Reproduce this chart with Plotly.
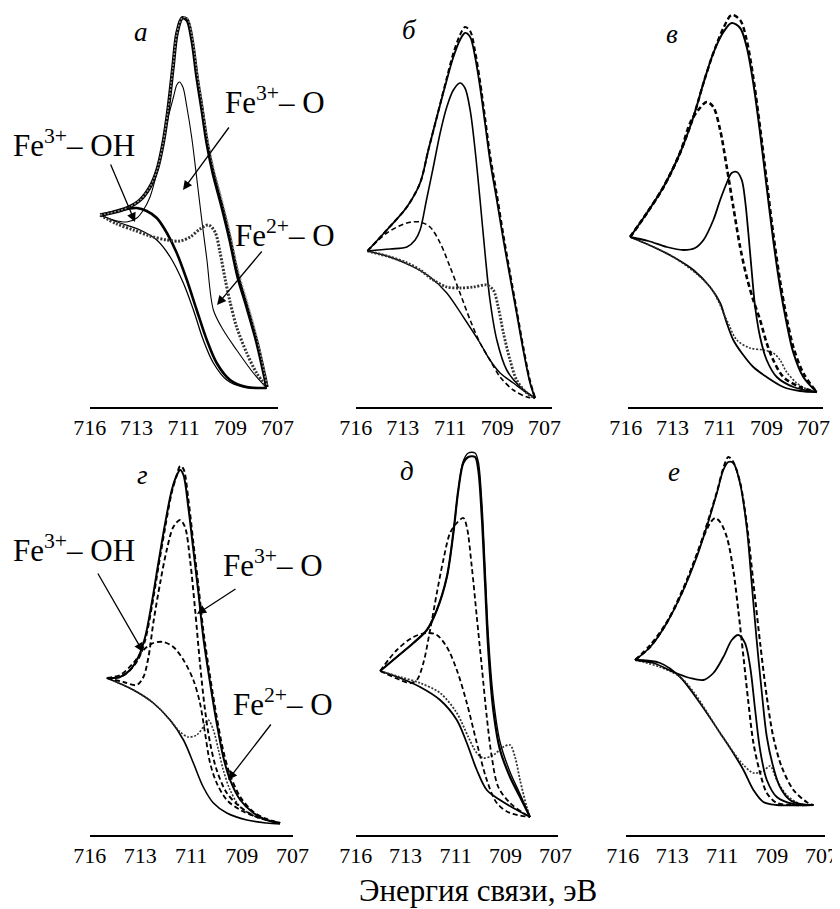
import numpy as np
import plotly.graph_objects as go

# ---------------- data (binding energy, eV  /  intensity, arb. units) ----------------
E_TICKS = [716, 713, 711, 709, 707]
TICK_TEXT = ["716", "713", "711", "709", "707"]
PANEL_LETTERS = ["а", "б", "в", "г", "д", "е"]
X_TITLE = "Энергия связи, эВ"
LBL_OH = "Fe<sup>3+</sup>– OH"
LBL_O3 = "Fe<sup>3+</sup>– O"
LBL_O2 = "Fe<sup>2+</sup>– O"

# panel а
a_env_e = [715.33, 714.69, 713.61, 712.85, 712.43, 712.13, 711.87, 711.66, 711.45, 711.28, 711.06, 710.85,
           710.64, 710.43, 710.21, 710.00, 709.74, 709.36, 709.02, 708.68, 708.30, 707.87, 707.45]
a_env_i = [192, 194, 199, 207, 220, 237, 264, 297, 340, 374, 389, 387, 367, 330, 297, 264, 234, 200, 167, 130, 100, 64, 20]
a_exp_i = [192, 194, 199, 207, 220, 237, 264, 297, 340, 374, 389, 389, 371, 336, 303, 271, 241, 207, 174, 137, 106, 69, 22]
a_o_e = [715.33, 714.48, 713.63, 712.99, 712.71, 712.43, 712.14, 711.86, 711.65, 711.43, 711.29, 711.18, 711.03,
         710.86, 710.65, 710.44, 710.23, 710.01, 709.73, 709.31, 708.74, 708.03, 707.46]
a_o_i = [192, 187, 185, 189, 197, 210, 234, 264, 290, 310, 322, 325, 320, 300, 269, 229, 188, 148, 97, 77, 57, 34, 19]
a_oh_e = [715.33, 714.48, 713.63, 712.99, 712.57, 712.14, 711.71, 711.29, 710.86, 710.44, 710.01, 709.59, 709.02, 708.31, 707.46]
a_oh_i = [192, 195, 198, 199, 196, 189, 174, 154, 127, 97, 67, 44, 27, 20, 19]
a_fe2_e = [715.33, 714.26, 713.20, 712.43, 711.71, 711.15, 710.72, 710.30, 709.94, 709.66, 709.45, 709.23, 709.02,
           708.74, 708.31, 707.89, 707.46]
a_fe2_i = [192, 183, 177, 171, 167, 166, 170, 178, 182, 175, 155, 128, 105, 80, 54, 34, 20]
a_bg_e = [715.33, 714.05, 712.85, 712.14, 711.57, 711.01, 710.58, 710.16, 709.73, 709.16, 708.46, 707.46]
a_bg_i = [192, 184, 177, 167, 150, 124, 97, 67, 44, 27, 20, 19]

# panel б
b_env_e = [715.25, 714.02, 712.83, 712.27, 711.92, 711.56, 711.14, 710.86, 710.58, 710.37, 710.15, 709.94,
           709.73, 709.52, 709.31, 709.02, 708.74, 708.46, 708.18, 707.90, 707.61, 707.40]
b_env_i = [156, 177, 200, 224, 257, 290, 327, 350, 367, 374, 370, 350, 320, 284, 247, 207, 167, 130, 94, 57, 24, 9]
b_exp_i = [156, 177, 200, 224, 257, 290, 329, 354, 372, 380, 376, 356, 326, 290, 253, 213, 172, 134, 97, 60, 26, 9]
b_o_e = [715.25, 713.81, 712.83, 712.48, 712.27, 712.00, 711.71, 711.42, 711.14, 710.86, 710.58, 710.37, 710.15,
         709.94, 709.73, 709.52, 709.31, 709.02, 708.60, 708.02, 707.40]
b_o_i = [156, 158, 160, 167, 177, 207, 240, 274, 300, 317, 324, 319, 297, 257, 207, 154, 107, 67, 37, 20, 9]
b_oh_e = [715.25, 714.02, 712.83, 712.27, 711.85, 711.42, 711.00, 710.58, 710.15, 709.73, 709.31, 708.88, 708.32, 707.75, 707.40]
b_oh_i = [156, 174, 184, 185, 180, 164, 140, 114, 87, 64, 47, 30, 17, 10, 9]
b_fe2_e = [715.25, 713.81, 712.83, 712.27, 711.71, 711.14, 710.58, 710.01, 709.45, 709.17, 708.96, 708.74, 708.46,
           708.18, 707.75, 707.40]
b_fe2_i = [156, 150, 144, 137, 127, 120, 119, 120, 122, 117, 100, 74, 47, 27, 14, 9]
b_bg_e = [715.25, 713.81, 712.55, 711.85, 711.14, 710.44, 709.73, 709.31, 708.88, 708.32, 707.75, 707.40]
b_bg_i = [156, 150, 140, 130, 114, 90, 64, 47, 34, 24, 14, 9]

# panel в
c_env_e = [715.84, 714.77, 713.71, 712.77, 712.20, 711.77, 711.35, 710.92, 710.57, 710.21, 709.93, 709.65,
           709.36, 709.08, 708.80, 708.51, 708.23, 707.94, 707.52, 706.95]
c_env_i = [170, 194, 220, 254, 290, 324, 354, 375, 384, 379, 360, 324, 274, 220, 167, 120, 84, 54, 30, 15]
c_exp_i = [170, 194, 220, 254, 290, 324, 354, 379, 392, 387, 367, 330, 280, 227, 174, 127, 90, 60, 34, 15]
c_oh_e = [715.84, 714.77, 713.71, 712.77, 712.34, 711.99, 711.63, 711.35, 711.06, 710.78, 710.50, 710.21, 709.93,
          709.65, 709.36, 709.08, 708.80, 708.37, 707.66, 706.95]
c_oh_i = [170, 194, 220, 254, 284, 297, 305, 300, 277, 240, 200, 160, 130, 107, 87, 64, 47, 30, 20, 15]
c_o_e = [715.84, 714.67, 713.50, 712.63, 712.13, 711.77, 711.35, 711.06, 710.78, 710.57, 710.35, 710.14, 710.00,
         709.86, 709.71, 709.57, 709.36, 709.08, 708.65, 707.94, 706.95]
c_o_i = [170, 166, 160, 157, 159, 167, 187, 207, 224, 234, 235, 227, 207, 174, 134, 100, 70, 47, 30, 20, 15]
c_fe2_e = [715.84, 713.08, 711.49, 710.78, 710.35, 709.79, 709.22, 708.80, 708.51, 708.23, 707.80, 707.37, 706.95]
c_fe2_i = [170, 150, 120, 87, 67, 59, 57, 54, 47, 35, 24, 18, 15]
c_bg_e = [715.84, 714.35, 713.08, 712.20, 711.49, 711.06, 710.78, 710.50, 710.14, 709.65, 709.08, 708.37, 707.66, 706.95]
c_bg_i = [170, 160, 150, 137, 120, 104, 84, 67, 54, 40, 30, 20, 16, 15]

# panel г
d_env_e = [714.98, 714.20, 713.61, 713.12, 712.81, 712.55, 712.29, 712.02, 711.76, 711.56, 711.43, 711.30,
           711.11, 710.91, 710.71, 710.52, 710.25, 709.99, 709.73, 709.46, 709.06, 708.54, 708.02, 707.49]
d_env_i = [157, 158, 165, 178, 198, 232, 272, 312, 345, 360, 365, 360, 328, 285, 242, 198, 152, 112, 78, 55, 35, 22, 15, 12]
d_exp_i = [157, 158, 165, 176, 195, 228, 268, 308, 343, 360, 369, 366, 336, 292, 249, 205, 158, 118, 84, 60, 38, 23, 16, 12]
d_o_e = [714.98, 714.00, 713.21, 712.88, 712.68, 712.49, 712.22, 711.96, 711.70, 711.43, 711.24, 711.04, 710.84,
         710.65, 710.45, 710.25, 709.99, 709.59, 709.06, 708.41, 707.49]
d_o_i = [157, 153, 150, 158, 178, 212, 252, 285, 308, 315, 308, 275, 225, 172, 125, 92, 65, 42, 28, 18, 12]
d_oh_e = [714.98, 714.20, 713.41, 712.88, 712.49, 712.09, 711.70, 711.30, 710.91, 710.65, 710.45, 710.25, 709.99,
          709.59, 709.06, 708.41, 707.49]
d_oh_i = [157, 160, 172, 185, 192, 193, 188, 175, 155, 132, 102, 72, 52, 35, 25, 18, 12]
d_fe2_e = [714.98, 713.41, 712.49, 711.83, 711.43, 711.11, 710.78, 710.52, 710.32, 710.12, 709.92, 709.73, 709.46,
           709.06, 708.41, 707.49]
d_fe2_i = [157, 145, 132, 115, 103, 98, 100, 108, 115, 105, 85, 65, 45, 28, 18, 12]
d_bg_e = [714.98, 713.41, 712.49, 711.83, 711.30, 710.91, 710.52, 710.12, 709.59, 708.80, 708.02, 707.49]
d_bg_i = [157, 145, 132, 115, 95, 72, 48, 32, 22, 15, 12, 11]

# panel д
e_env_e = [714.53, 713.53, 712.69, 712.15, 711.75, 711.35, 711.09, 710.89, 710.69, 710.49, 710.22, 710.09,
           709.95, 709.82, 709.69, 709.49, 709.22, 708.82, 708.42, 708.02]
e_env_i = [164, 178, 192, 205, 225, 258, 302, 345, 372, 378, 378, 365, 318, 252, 185, 125, 85, 58, 38, 18]
e_exp_i = [164, 178, 192, 205, 225, 258, 302, 345, 374, 382, 382, 373, 333, 268, 200, 137, 93, 63, 41, 18]
e_o_e = [714.53, 713.33, 712.82, 712.55, 712.29, 712.02, 711.75, 711.49, 711.22, 710.95, 710.69, 710.55, 710.35,
         710.15, 709.95, 709.75, 709.55, 709.29, 708.82, 708.29, 708.02]
e_o_i = [164, 155, 152, 155, 172, 205, 242, 275, 302, 312, 317, 308, 268, 218, 168, 118, 78, 48, 32, 22, 18]
e_oh_e = [714.53, 713.53, 712.69, 712.15, 711.75, 711.35, 710.95, 710.55, 710.15, 709.75, 709.35, 708.82, 708.02]
e_oh_i = [164, 185, 198, 202, 200, 188, 165, 132, 92, 55, 32, 22, 18]
e_fe2_e = [714.53, 713.33, 712.42, 711.62, 710.95, 710.49, 710.15, 709.89, 709.49, 709.09, 708.82, 708.62, 708.42,
           708.15, 708.02]
e_fe2_i = [164, 158, 152, 142, 122, 98, 82, 77, 80, 88, 90, 78, 55, 28, 18]
e_bg_e = [714.53, 713.33, 712.42, 711.62, 710.95, 710.55, 710.15, 709.75, 709.22, 708.69, 708.02]
e_bg_i = [164, 157, 148, 135, 115, 92, 65, 45, 35, 27, 18]

# panel е
f_env_e = [715.43, 714.52, 713.52, 712.68, 712.14, 711.74, 711.33, 711.07, 710.87, 710.67, 710.40, 710.13,
           709.93, 709.73, 709.52, 709.32, 709.06, 708.79, 708.39, 707.98, 707.45]
f_env_i = [175, 188, 212, 245, 278, 308, 342, 365, 373, 372, 352, 308, 252, 195, 142, 98, 68, 48, 35, 31, 30]
f_exp_e = [715.43, 714.52, 713.52, 712.68, 712.14, 711.74, 711.33, 711.07, 710.87, 710.67, 710.40, 710.13,
           709.86, 709.59, 709.32, 709.06, 708.72, 708.25, 707.72, 707.45]
f_exp_i = [175, 190, 213, 247, 280, 310, 343, 367, 378, 373, 353, 312, 252, 192, 138, 98, 68, 45, 33, 30]
f_oh_e = [715.43, 714.52, 713.52, 712.68, 712.27, 711.87, 711.60, 711.40, 711.20, 710.93, 710.67, 710.47, 710.26,
          710.06, 709.86, 709.59, 709.32, 708.92, 708.25, 707.45]
f_oh_i = [175, 188, 212, 245, 272, 298, 312, 317, 313, 298, 265, 225, 178, 132, 92, 62, 42, 32, 30, 30]
f_o_e = [715.43, 714.32, 713.12, 712.41, 711.87, 711.47, 711.07, 710.73, 710.47, 710.20, 709.99, 709.79, 709.59,
         709.32, 708.92, 708.25, 707.45]
f_o_i = [175, 172, 163, 157, 155, 162, 178, 195, 200, 192, 168, 125, 85, 55, 38, 31, 30]
f_fe2_e = [715.43, 712.81, 711.20, 710.67, 710.26, 709.86, 709.46, 709.19, 708.92, 708.52, 707.98, 707.45]
f_fe2_i = [175, 158, 102, 83, 70, 62, 64, 69, 55, 40, 31, 30]
f_bg_e = [715.43, 713.92, 712.81, 712.01, 711.20, 710.67, 710.26, 709.86, 709.46, 708.92, 707.45]
f_bg_i = [175, 172, 158, 132, 102, 82, 65, 45, 33, 30, 30]

# ---------------- figure ----------------
W, H = 840, 909
OFF = 8  # page margin of the browser around the plot div
FONT = "Liberation Serif"

# energy -> evenly spaced label position (the axis labels are equally spaced)
def pos(e):
    return np.interp(np.asarray(e, dtype=float), [705, 707, 709, 711, 713, 716, 719], [5, 4, 3, 2, 1, 0, -1])

def fx(x):
    return min(max((x - OFF) / W, 0.0), 1.0)

def fy(y):
    return min(max(1 - (y - OFF) / H, 0.0), 1.0)

# panel geometry in page pixels: (x_left, x_right, px per label step, y_top, y_bottom, label shift)
GEOM = [
    (89.5, 278, 47.0, 8, 407, 0),
    (355.5, 552, 47.25, 8, 407, 0),
    (627.5, 823, 47.0, 8, 407, -2),
    (89.5, 293, 50.75, 435, 835, 0),
    (355.5, 558, 50.0, 435, 835, 0),
    (625.5, 825, 49.75, 435, 835, -3),
]

K = "black"
G = "#333333"
DASH = "5px,3px"
DOT = "2px,1.6px"

PANELS = [
    [(a_bg_e, a_bg_i, K, 1.3, "solid"), (a_oh_e, a_oh_i, K, 2.6, "solid"), (a_o_e, a_o_i, K, 1.1, "solid"),
     (a_fe2_e, a_fe2_i, G, 3.0, DOT), (a_env_e, a_env_i, K, 3.6, "solid"), (a_env_e, a_exp_i, "#888888", 1.6, DOT)],
    [(b_bg_e, b_bg_i, K, 1.4, "solid"), (b_oh_e, b_oh_i, K, 1.6, DASH), (b_o_e, b_o_i, K, 1.6, "solid"),
     (b_fe2_e, b_fe2_i, G, 2.8, DOT), (b_env_e, b_env_i, K, 1.8, "solid"), (b_env_e, b_exp_i, K, 2.0, DASH)],
    [(c_bg_e, c_bg_i, K, 1.8, "solid"), (c_fe2_e, c_fe2_i, G, 1.6, DOT), (c_o_e, c_o_i, K, 1.8, "solid"),
     (c_oh_e, c_oh_i, K, 2.6, DASH), (c_env_e, c_env_i, K, 2.0, "solid"), (c_env_e, c_exp_i, K, 2.4, DASH)],
    [(d_bg_e, d_bg_i, K, 1.6, "solid"), (d_fe2_e, d_fe2_i, G, 1.6, DOT), (d_oh_e, d_oh_i, K, 1.8, DASH),
     (d_o_e, d_o_i, K, 1.9, DASH), (d_env_e, d_env_i, K, 2.0, "solid"), (d_env_e, d_exp_i, K, 2.0, DASH)],
    [(e_bg_e, e_bg_i, K, 1.8, "solid"), (e_fe2_e, e_fe2_i, G, 1.8, DOT), (e_oh_e, e_oh_i, K, 1.8, DASH),
     (e_o_e, e_o_i, K, 1.8, DASH), (e_env_e, e_env_i, K, 2.2, "solid"), (e_env_e, e_exp_i, K, 1.4, "solid")],
    [(f_bg_e, f_bg_i, K, 1.8, "solid"), (f_fe2_e, f_fe2_i, G, 1.6, DOT), (f_o_e, f_o_i, K, 1.8, "solid"),
     (f_oh_e, f_oh_i, K, 2.0, DASH), (f_env_e, f_env_i, K, 1.8, "solid"), (f_exp_e, f_exp_i, K, 2.0, DASH)],
]

fig = go.Figure()
layout = dict(width=W, height=H, margin=dict(l=0, r=0, t=0, b=0, autoexpand=False), paper_bgcolor="white",
              plot_bgcolor="rgba(0,0,0,0)", showlegend=False, font=dict(family=FONT, color="black"))

for k, (curves, (xl, xr, step, yt, yb, shift)) in enumerate(zip(PANELS, GEOM), start=1):
    xa = "x" if k == 1 else f"x{k}"
    ya = "y" if k == 1 else f"y{k}"
    for e, i, col, w, dash in curves:
        fig.add_trace(go.Scatter(x=pos(e), y=i, mode="lines", xaxis=xa, yaxis=ya, hoverinfo="skip",
                                 line=dict(color=col, width=w, dash=dash, shape="spline", smoothing=0.9)))
    sfx = "" if k == 1 else str(k)
    layout["xaxis" + sfx] = dict(domain=[fx(xl), fx(xr)], range=[-0.003, (xr - xl) / step], anchor=ya,
                                 showline=True, linecolor="black", linewidth=1.6, ticks="",
                                 tickmode="array", tickvals=pos(E_TICKS), ticktext=TICK_TEXT,
                                 tickfont=dict(size=22, family=FONT), ticklabelshift=shift,
                                 showgrid=False, zeroline=False, fixedrange=True, automargin=False)
    layout["yaxis" + sfx] = dict(domain=[fy(yb), fy(yt)], range=[0, yb - yt], anchor=xa, visible=False,
                                 fixedrange=True)

fig.update_layout(**layout)

ann = []
# panel letters
for letter, (lx, ly) in zip(PANEL_LETTERS, [(141, 32), (409, 30), (672, 34), (142, 475), (407, 471), (674, 472)]):
    ann.append(dict(x=fx(lx), y=fy(ly), xref="paper", yref="paper", text=f"<i>{letter}</i>", showarrow=False,
                    font=dict(size=27, family=FONT), xanchor="center", yanchor="middle"))
# component labels
for txt, (lx, ly) in [(LBL_OH, (74, 143)), (LBL_O3, (275, 100)), (LBL_O2, (285, 233)),
                      (LBL_OH, (74, 548)), (LBL_O3, (273, 563)), (LBL_O2, (283, 702))]:
    ann.append(dict(x=fx(lx), y=fy(ly), xref="paper", yref="paper", text=txt, showarrow=False,
                    font=dict(size=31, family=FONT), xanchor="center", yanchor="middle"))
# arrows (tail -> head)
for (tx, ty), (hx, hy) in [((110, 163), (135, 222)), ((230, 126), (183, 190)), ((263, 250), (217, 305)),
                           ((97, 572), (143, 652)), ((237, 588), (197, 614)), ((272, 723), (228, 780))]:
    ann.append(dict(x=fx(hx), y=fy(hy), xref="paper", yref="paper", ax=tx - hx, ay=ty - hy, text="",
                    showarrow=True, arrowhead=2, arrowsize=1.4, arrowwidth=1.3, arrowcolor="black"))
# x title
ann.append(dict(x=fx(478), y=fy(890), xref="paper", yref="paper", text=X_TITLE, showarrow=False,
                font=dict(size=31, family=FONT), xanchor="center", yanchor="middle"))
fig.update_layout(annotations=ann)

fig.write_html("out.html")
